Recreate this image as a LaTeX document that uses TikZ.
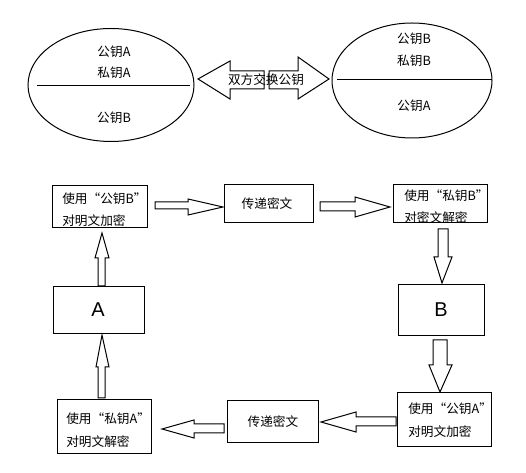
\documentclass[tikz,border=0pt]{standalone}
\usepackage{fontspec}
\setmainfont{Liberation Sans}
\newfontfamily\cjk{Noto Sans CJK SC}
\begin{document}
\begin{tikzpicture}[x=0.75pt,y=-0.75pt,
  txt/.style={font=\cjk\fontsize{9.5pt}{11pt}\selectfont, inner sep=0pt},
  bigtxt/.style={font=\fontsize{15pt}{17pt}\selectfont, inner sep=0pt},
  box/.style={draw=black, line width=0.75pt, fill=white},
  blk/.style={draw=black, line width=0.75pt, fill=white, line join=miter},
  ln/.style={draw=black, line width=0.75pt}]
\useasboundingbox (0,0) rectangle (526,473);

% ---- top: ellipses ----
\draw[ln] (111,85) ellipse [x radius=83, y radius=56.5];
\draw[ln] (37,86) -- (190,86);
\node[txt] (lA1) at (114,52) {公钥A};
\node[txt] (lA2) at (114,73) {私钥A};
\node[txt] (lB) at (114,118) {公钥B};

\draw[ln] (412,80.5) ellipse [x radius=80, y radius=57.5];
\draw[ln] (337,80) -- (492,80);
\node[txt] (rB1) at (414,39) {公钥B};
\node[txt] (rB2) at (414,61) {私钥B};
\node[txt] (rA) at (414,106) {公钥A};

% double block arrow
\draw[blk] (198,79) -- (230,61) -- (230,71) -- (264,71) -- (264,89) -- (230,89) -- (230,99) -- cycle;
\draw[blk] (269,71) -- (298,71) -- (298,57) -- (329,79) -- (298,99) -- (298,89) -- (269,89) -- cycle;
\node[txt] (ex) at (266,80) {双方交换公钥};

% ---- boxes ----
\draw[box] (52,186) rectangle (147,228);
\node[txt, anchor=west] (t1a) at (62,199) {使用“公钥B”};
\node[txt, anchor=west] (t1b) at (62,221) {对明文加密};

\draw[box] (224,185) rectangle (313,223);
\node[txt] (t2) at (267,204) {传递密文};

\draw[box] (393,185) rectangle (487,223);
\node[txt, anchor=west] (t3a) at (404,196) {使用“私钥B”};
\node[txt, anchor=west] (t3b) at (404,218) {对密文解密};

\draw[box] (53,287) rectangle (144,334);
\node[bigtxt] (A) at (98,310) {A};

\draw[box] (398,285) rectangle (484,336);
\node[bigtxt] (B) at (441,310) {B};

\draw[box] (397,393) rectangle (491,447);
\node[txt, anchor=west] (t4a) at (408,409) {使用“公钥A”};
\node[txt, anchor=west] (t4b) at (408,432) {对明文加密};

\draw[box] (227,401) rectangle (318,443);
\node[txt] (t5) at (273,422) {传递密文};

\draw[box] (57,400) rectangle (151,454);
\node[txt, anchor=west] (t6a) at (66,419) {使用“私钥A”};
\node[txt, anchor=west] (t6b) at (66,442) {对明文解密};

% ---- block arrows ----
% top row rightwards
\draw[blk] (155,202) -- (188,202) -- (188,199) -- (223,207) -- (188,215) -- (188,209) -- (155,209) -- cycle;
\draw[blk] (320,202) -- (355,202) -- (355,197) -- (390,207) -- (355,217) -- (355,211) -- (320,211) -- cycle;
% right column downwards
\draw[blk] (438,229) -- (448,229) -- (448,257) -- (452,257) -- (442,283) -- (434,257) -- (438,257) -- cycle;
\draw[blk] (433,340) -- (447,340) -- (447,365) -- (452,365) -- (440,392) -- (429,365) -- (433,365) -- cycle;
% bottom row leftwards
\draw[blk] (396,417) -- (356,417) -- (356,412) -- (321,422) -- (356,432) -- (356,426) -- (396,426) -- cycle;
\draw[blk] (224,424) -- (194,424) -- (194,420) -- (162,429) -- (194,438) -- (194,433) -- (224,433) -- cycle;
% left column upwards
\draw[blk] (98,398) -- (105,398) -- (105,367) -- (109,367) -- (102,335) -- (96,367) -- (98,367) -- cycle;
\draw[blk] (98,286) -- (105,286) -- (105,258) -- (109,258) -- (102,233) -- (95,258) -- (98,258) -- cycle;
\end{tikzpicture}
\end{document}
